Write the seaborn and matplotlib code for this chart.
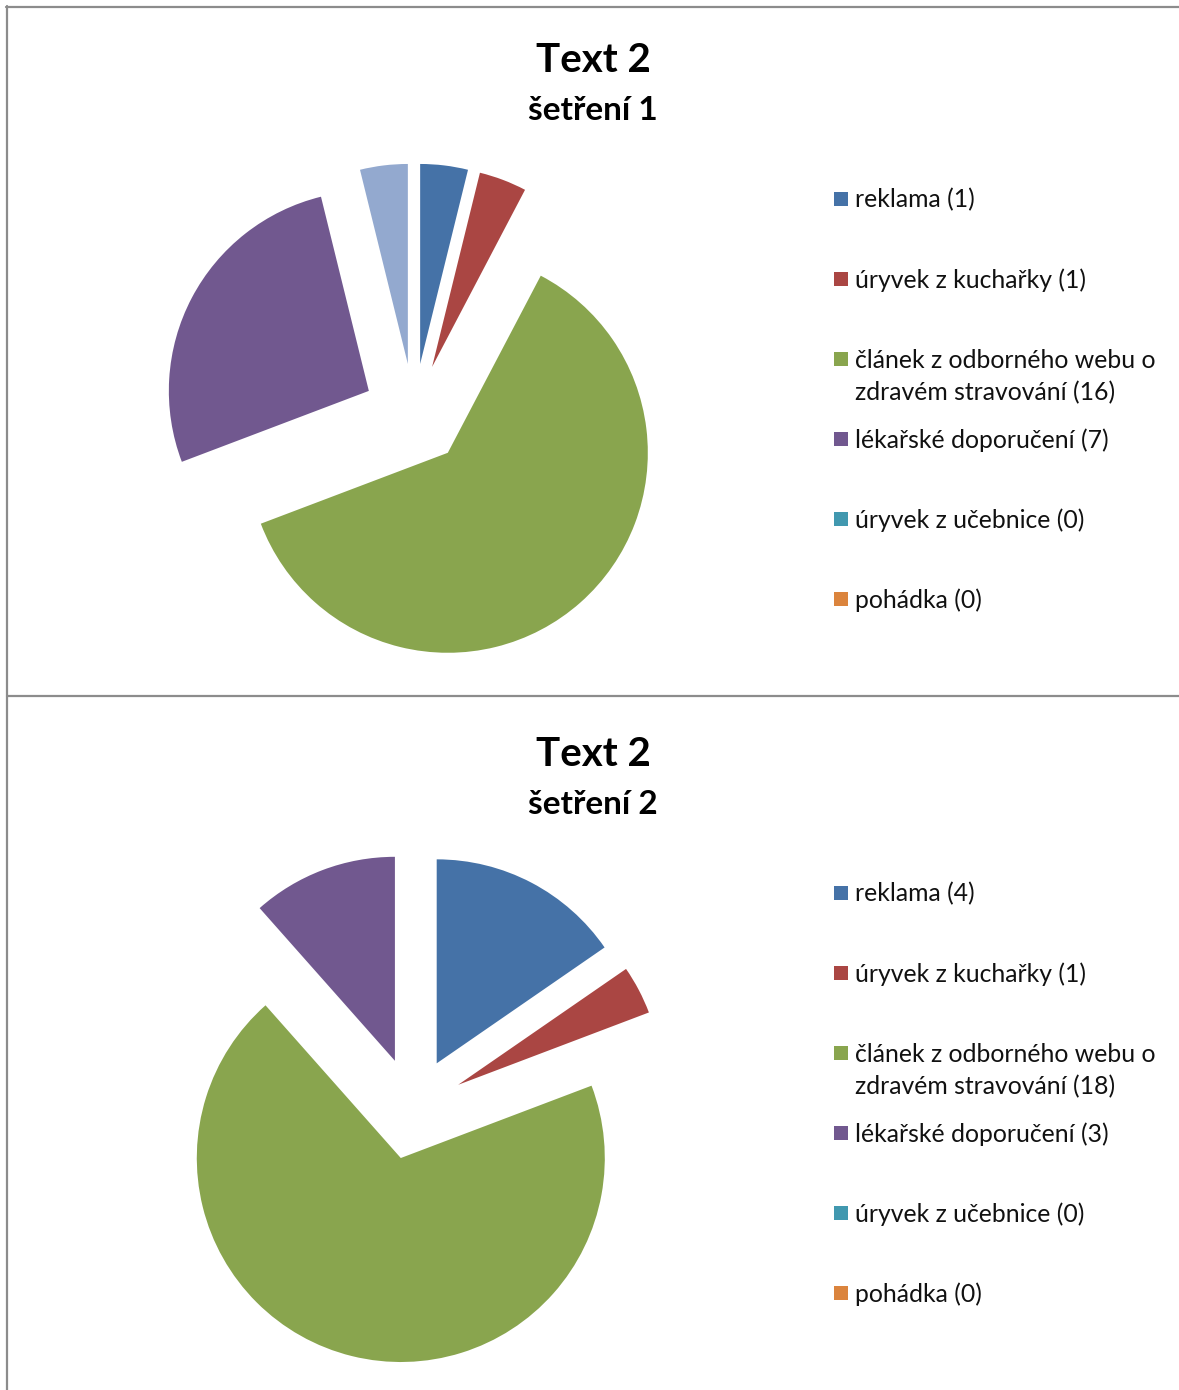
import matplotlib
matplotlib.use("Agg")
import matplotlib.pyplot as plt
from matplotlib.patches import Rectangle
from matplotlib.lines import Line2D
import seaborn as sns

sns.set_theme(style="white")
plt.rcParams["font.family"] = ["Lato", "DejaVu Sans"]

# --- data -------------------------------------------------------------
categories = [
    "reklama",
    "úryvek z kuchařky",
    "článek z odborného webu o\nzdravém stravování",
    "lékařské doporučení",
    "úryvek z učebnice",
    "pohádka",
]
values_1 = [1, 1, 16, 7, 0, 0]
values_2 = [4, 1, 18, 3, 0, 0]
# unlabelled seventh slice present in the first survey only
extra_1 = 1
extra_2 = 0
titles = ["Text 2", "Text 2"]
subtitles = ["šetření 1", "šetření 2"]

palette = sns.color_palette(
    ["#4572A7", "#AA4643", "#89A54E", "#71588F", "#4198AF", "#DB843D", "#93A9CF"]
)

# --- figure -----------------------------------------------------------
W, H = 1179, 1390
fig = plt.figure(figsize=(W / 100, H / 100), dpi=100)
fig.patch.set_facecolor("white")


def fy(y):
    return (H - y) / H


def fx(x):
    return x / W


# panel frames
frame_kw = dict(color="#8c8c8c", linewidth=1.6, transform=fig.transFigure)
fig.add_artist(Line2D([fx(6), 1], [fy(6.5), fy(6.5)], **frame_kw))
fig.add_artist(Line2D([fx(7), fx(7)], [fy(6), 0], **frame_kw))
fig.add_artist(Line2D([fx(7), 1], [fy(695.5), fy(695.5)], **frame_kw))


def draw_panel(values, extra, title, subtitle, cx, cy, r, explode, dy):
    S = 300
    ax = fig.add_axes([fx(cx - S), fy(cy + S), 2 * S / W, 2 * S / H])
    vals = list(values) + [extra]
    ax.pie(
        vals,
        radius=1.0,
        explode=[explode] * len(vals),
        startangle=90,
        counterclock=False,
        colors=palette[: len(vals)],
        wedgeprops=dict(linewidth=0),
    )
    lim = S / r
    ax.set_xlim(-lim, lim)
    ax.set_ylim(-lim, lim)
    ax.axis("off")

    fig.text(fx(593), fy(71.7 + dy), title, ha="center", va="baseline",
             fontsize=29, fontweight="bold", color="black")
    fig.text(fx(593), fy(120 + dy), subtitle, ha="center", va="baseline",
             fontsize=24, fontweight="bold", color="black")

    # legend: square + label, one line of text per row of the label
    base = 205.7 + dy
    for i, (cat, v) in enumerate(zip(categories, values)):
        yb = base + 80 * i
        fig.add_artist(Rectangle((fx(834), fy(yb)), 14 / W, 14 / H,
                                 transform=fig.transFigure,
                                 facecolor=palette[i], edgecolor="none"))
        lines = f"{cat} ({v})".split("\n")
        for k, line in enumerate(lines):
            fig.text(fx(855), fy(yb + 2 + 33 * k), line, ha="left",
                     va="baseline", fontsize=17.8, color="#111111")


draw_panel(values_1, extra_1, titles[0], subtitles[0],
           cx=414, cy=414.6, r=200, explode=0.255, dy=0)
draw_panel(values_2, extra_2, titles[1], subtitles[1],
           cx=413, cy=1108.5, r=204, explode=0.25, dy=694)

fig.savefig("out.png", dpi=100, facecolor="white")
